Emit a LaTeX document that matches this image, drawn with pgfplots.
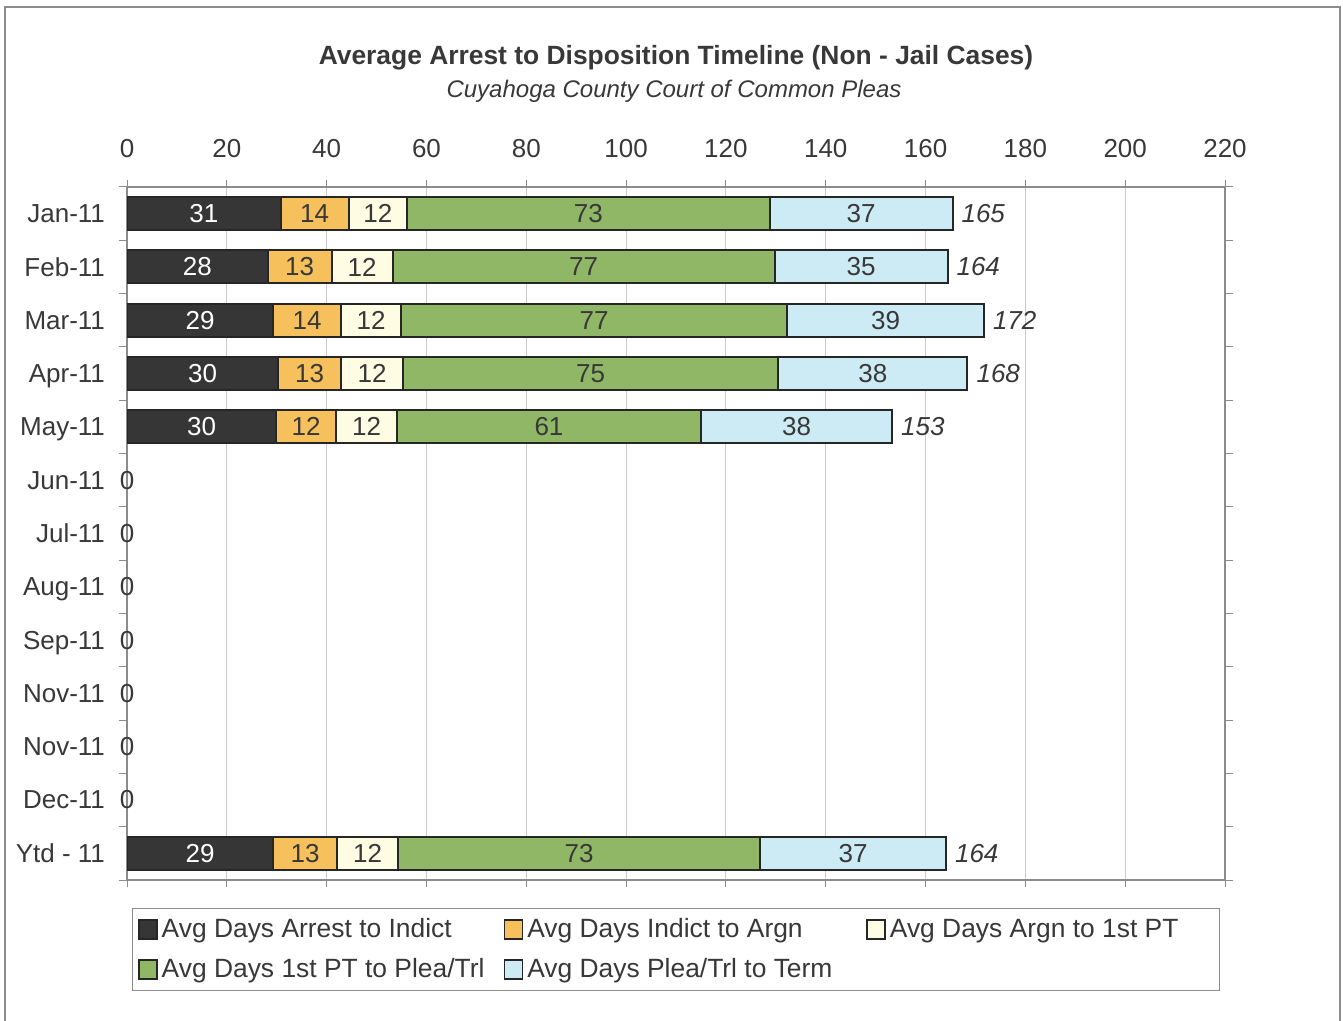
\documentclass[border=0pt]{standalone}
\usepackage{pgfplots}
\usepackage{pgfplotstable}
\pgfplotsset{compat=1.18}
\usepackage{fontspec}
\setmainfont{Liberation Sans}

\definecolor{cDark}{HTML}{363636}
\definecolor{cOrange}{HTML}{F6C05C}
\definecolor{cCream}{HTML}{FEFCE3}
\definecolor{cGreen}{HTML}{90B766}
\definecolor{cBlue}{HTML}{CCEBF4}
\definecolor{cText}{HTML}{383838}
\definecolor{cGrid}{HTML}{CACACA}
\definecolor{cFrame}{HTML}{8C8C8C}

% row 0 = Jan-11 ... row 12 = Ytd - 11
\pgfplotstableread{
row  s1    s2    s3    s4    s5    total
0    30.8  13.6  11.7  72.7  36.6  165.4
1    28.2  12.8  12.2  76.6  34.6  164.4
2    29.3  13.6  12.0  77.4  39.4  171.7
3    30.3  12.6  12.4  75.2  37.9  168.4
4    29.9  12.0  12.2  60.9  38.3  153.3
5    0     0     0     0     0     0
6    0     0     0     0     0     0
7    0     0     0     0     0     0
8    0     0     0     0     0     0
9    0     0     0     0     0     0
10   0     0     0     0     0     0
11   0     0     0     0     0     0
12   29.3  12.8  12.2  72.6  37.2  164.1
}\timeline

\pgfplotsset{
  commonaxis/.style={
    at={(63.5pt,70.5pt)}, anchor=south west,
    scale only axis, width=549pt, height=346.5pt,
    xmin=0, xmax=220, ymin=-0.5, ymax=12.5, y dir=reverse,
  },
}

\begin{document}
\begin{tikzpicture}
\useasboundingbox (0,0) rectangle (671.5pt,510.5pt);
% page frame (no bottom edge visible)
\draw[cFrame, line width=0.6pt] (2.5pt,0pt) -- (2.5pt,507pt) -- (670pt,507pt) -- (670pt,0pt);

\node[font=\fontsize{13.2}{15}\selectfont\bfseries, text=cText] at (338pt,481.5pt)
  {Average Arrest to Disposition Timeline (Non - Jail Cases)};
\node[font=\fontsize{12}{14}\selectfont\itshape, text=cText] at (337pt,465pt)
  {Cuyahoga County Court of Common Pleas};

\begin{axis}[
  commonaxis,
  xbar stacked, bar width=0.62,
  xtick={0,20,...,220},
  ytick={0,...,12},
  yticklabels={Jan-11,Feb-11,Mar-11,Apr-11,May-11,Jun-11,Jul-11,Aug-11,Sep-11,Nov-11,Nov-11,Dec-11,Ytd - 11},
  minor ytick={-0.5,0.5,...,12.5},
  xticklabel pos=right,
  tick align=outside,
  major tick length=3.5pt, minor tick length=4pt,
  major y tick style={draw=none},
  minor y tick style={draw=cFrame, line width=0.5pt},
  xtick style={draw=cFrame, line width=0.5pt},
  xmajorgrids, grid style={cGrid, line width=0.5pt},
  axis line style={cFrame, line width=0.6pt},
  ticklabel style={font=\fontsize{13}{15}\selectfont, text=cText},
  xticklabel style={yshift=7.5pt},
  yticklabel style={xshift=-4pt, text depth=0pt},
  /pgf/number format/assume math mode=true,
  /pgf/number format/fixed, /pgf/number format/precision=0,
  point meta=explicit,
  nodes near coords={\pgfmathfloatifflags{\pgfplotspointmeta}{0}{}{\pgfmathprintnumber{\pgfplotspointmeta}}},
  nodes near coords style={font=\fontsize{13}{15}\selectfont, text=cText},
  every axis plot/.append style={draw=black!85, line width=1pt},
  legend columns=3,
  legend cell align=left,
  legend style={at={(0.5,0)}, anchor=north, yshift=-14pt,
    draw=cFrame, line width=0.5pt, text=cText,
    font=\fontsize{13.2}{15}\selectfont,
    row sep=5pt, inner xsep=3pt, inner ysep=3pt},
  legend image code/.code={\draw[#1, draw=black!85, line width=0.8pt] (0pt,-4.75pt) rectangle (9pt,4.75pt);},
]
\addplot[fill=cDark, every node near coord/.append style={text=white}]
  table[x=s1, y=row, meta=s1] {\timeline};
\addlegendentry{\makebox[169pt][l]{Avg Days Arrest to Indict}}
\addplot[fill=cOrange] table[x=s2, y=row, meta=s2] {\timeline};
\addlegendentry{\makebox[167.5pt][l]{Avg Days Indict to Argn}}
\addplot[fill=cCream] table[x=s3, y=row, meta=s3] {\timeline};
\addlegendentry{\makebox[160pt][l]{Avg Days Argn to 1st PT}}
\addplot[fill=cGreen] table[x=s4, y=row, meta=s4] {\timeline};
\addlegendentry{\makebox[169pt][l]{Avg Days 1st PT to Plea/Trl}}
\addplot[fill=cBlue] table[x=s5, y=row, meta=s5] {\timeline};
\addlegendentry{\makebox[167.5pt][l]{Avg Days Plea/Trl to Term}}
\end{axis}

% overlay axis for the totals at the bar ends
\begin{axis}[commonaxis, hide axis,
  nodes near coords={\pgfmathprintnumber{\pgfplotspointmeta}},
  /pgf/number format/assume math mode=true,
  /pgf/number format/fixed, /pgf/number format/precision=0,
  nodes near coords style={font=\fontsize{13}{15}\selectfont, text=cText},
]
\addplot[only marks, mark=none, point meta=explicit,
  every node near coord/.append style={anchor=west, xshift=1pt, font=\fontsize{13}{15}\selectfont\itshape}]
  table[x=total, y=row, meta=total, restrict expr to domain={\thisrow{total}}{1:1000}] {\timeline};
\addplot[only marks, mark=none, point meta=explicit,
  every node near coord/.append style={anchor=center}]
  table[x=total, y=row, meta=total, restrict expr to domain={\thisrow{total}}{-1:0.5}] {\timeline};
\end{axis}
\end{tikzpicture}
\end{document}
